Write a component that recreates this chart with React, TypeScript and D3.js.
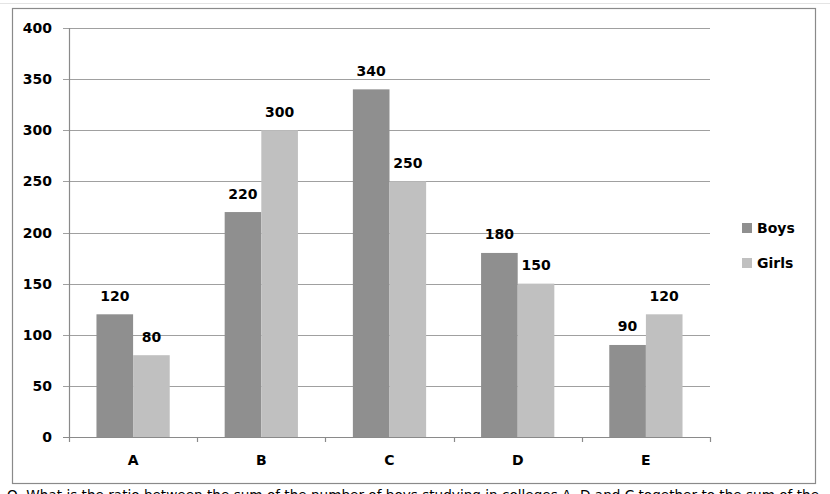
import React from "react";
import * as d3 from "d3";

const categories = ["A", "B", "C", "D", "E"];
const seriesNames = ["Boys", "Girls"];
const boys = [120, 220, 340, 180, 90];
const girls = [80, 300, 250, 150, 120];
const yTicks = [0, 50, 100, 150, 200, 250, 300, 350, 400];
const seriesColors = ["#8f8f8f", "#c0c0c0"];
const question =
  "Q. What is the ratio between the sum of the number of boys studying in colleges A, D and C together to the sum of the";

const FONT = "'DejaVu Sans', Verdana, sans-serif";

export default function App() {
  const W = 830;
  const H = 494;
  const left = 69;
  const right = 710;
  const top = 28;
  const bottom = 437;

  const x = d3.scaleBand<string>().domain(categories).range([left, right]).paddingInner(0).paddingOuter(0);
  const x1 = d3
    .scaleBand<string>()
    .domain(seriesNames)
    .range([0, x.bandwidth()])
    .paddingInner(0)
    .paddingOuter(0.75);
  const y = d3.scaleLinear().domain([0, 400]).range([bottom, top]);

  const values = [boys, girls];

  return (
    <svg
      width={W}
      height={H}
      style={{ position: "absolute", left: 0, top: 0, background: "#fff" }}
      fontFamily={FONT}
    >
      <rect x={0} y={0} width={W} height={H} fill="#fff" />
      <line x1={0} x2={W} y1={3.5} y2={3.5} stroke="#e4e4e4" strokeWidth={1} />
      <rect x={12.5} y={8.5} width={803} height={475} fill="#fff" stroke="#8a8a8a" strokeWidth={1.2} />

      {/* gridlines and y ticks */}
      {yTicks.map((t) => (
        <g key={t}>
          <line
            x1={left - 6}
            x2={right}
            y1={Math.round(y(t)) + 0.5}
            y2={Math.round(y(t)) + 0.5}
            stroke={t === 0 ? "#8a8a8a" : "#a0a0a0"}
            strokeWidth={1.2}
          />
          <text
            x={52}
            y={y(t)}
            dy="0.36em"
            textAnchor="end"
            fontSize={14}
            fontWeight="bold"
            fill="#000"
          >
            {t}
          </text>
        </g>
      ))}

      {/* bars */}
      {categories.map((c, i) => (
        <g key={c} transform={`translate(${x(c)},0)`}>
          {seriesNames.map((s, j) => {
            const v = values[j][i];
            const bx = x1(s)!;
            return (
              <g key={s}>
                <rect
                  x={bx}
                  y={y(v)}
                  width={x1.bandwidth()}
                  height={y(0) - y(v)}
                  fill={seriesColors[j]}
                />
                <text
                  x={bx + x1.bandwidth() / 2}
                  y={y(v) - 13.5}
                  textAnchor="middle"
                  fontSize={14}
                  fontWeight="bold"
                  fill="#000"
                >
                  {v}
                </text>
              </g>
            );
          })}
        </g>
      ))}

      {/* y axis */}
      <line x1={left + 0.5} x2={left + 0.5} y1={top} y2={bottom + 5} stroke="#8a8a8a" strokeWidth={1.2} />
      {/* x axis ticks */}
      {categories.map((c) => (
        <line
          key={"t" + c}
          x1={Math.round(x(c)! + x.bandwidth()) + 0.5}
          x2={Math.round(x(c)! + x.bandwidth()) + 0.5}
          y1={bottom}
          y2={bottom + 5}
          stroke="#8a8a8a"
          strokeWidth={1.2}
        />
      ))}
      {categories.map((c) => (
        <text
          key={"l" + c}
          x={x(c)! + x.bandwidth() / 2}
          y={460}
          dy="0.36em"
          textAnchor="middle"
          fontSize={14}
          fontWeight="bold"
          fill="#000"
        >
          {c}
        </text>
      ))}

      {/* legend */}
      {seriesNames.map((s, j) => (
        <g key={s} transform={`translate(742,${223 + j * 35})`}>
          <rect x={0} y={0} width={10} height={10} fill={seriesColors[j]} />
          <text x={15} y={10} fontSize={14} fontWeight="bold" fill="#000">
            {s}
          </text>
        </g>
      ))}

      <text
        x={7}
        y={500}
        fontSize={14}
        fill="#000"
        textLength={812}
        lengthAdjust="spacingAndGlyphs"
      >
        {question}
      </text>
    </svg>
  );
}
